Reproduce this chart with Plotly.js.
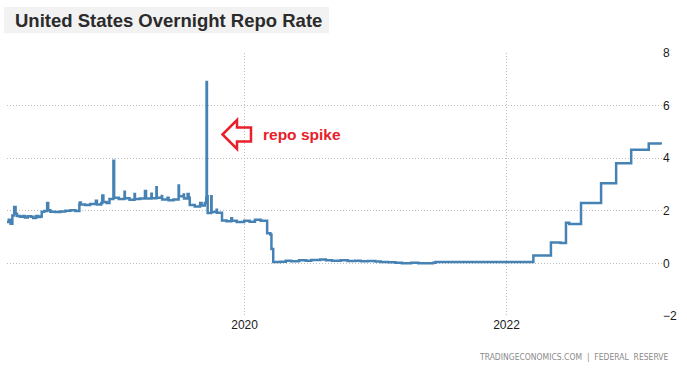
<!DOCTYPE html>
<html>
<head>
<meta charset="utf-8">
<script src="https://cdn.plot.ly/plotly-3.0.1.min.js"></script>
<style>html,body{margin:0;padding:0;background:#fff;}#chart{width:687px;height:370px;}</style>
</head>
<body>
<div id="chart"></div>
<script>
// ---- data ----
const dates = [
"2018-03-09","2018-03-14","2018-03-19","2018-03-24","2018-03-29","2018-04-02","2018-04-06","2018-04-14","2018-04-22","2018-04-28",
"2018-05-06","2018-05-15","2018-05-21","2018-05-29","2018-06-04","2018-06-10","2018-06-14","2018-06-21","2018-06-29","2018-07-02",
"2018-07-08","2018-07-22","2018-08-05","2018-08-19","2018-09-02","2018-09-16","2018-09-27","2018-09-28","2018-10-01","2018-10-13",
"2018-10-27","2018-11-12","2018-11-15","2018-11-27","2018-11-30","2018-12-03","2018-12-12","2018-12-20","2018-12-31","2019-01-02",
"2019-01-15","2019-01-31","2019-02-01","2019-02-14","2019-02-28","2019-03-01","2019-03-15","2019-03-29","2019-04-01","2019-04-16",
"2019-04-17","2019-04-30","2019-05-01","2019-05-15","2019-05-16","2019-05-31","2019-06-03","2019-06-17","2019-07-01","2019-07-02",
"2019-07-15","2019-07-16","2019-07-26","2019-07-29","2019-08-01","2019-08-15","2019-08-30","2019-09-03","2019-09-12","2019-09-16",
"2019-09-17","2019-09-18","2019-09-20","2019-09-30","2019-10-01","2019-10-15","2019-10-16","2019-10-30","2019-11-12","2019-11-25",
"2019-11-27","2019-12-10","2019-12-31","2020-01-15","2020-01-30","2020-02-15","2020-03-04","2020-03-13","2020-03-16","2020-03-21",
"2020-04-10","2020-04-25","2020-05-10","2020-06-01","2020-06-20","2020-07-05","2020-07-30","2020-08-15","2020-09-01","2020-09-25",
"2020-10-15","2020-11-05","2020-11-20","2020-12-10","2020-12-31","2021-01-15","2021-02-05","2021-02-25","2021-03-15","2021-04-10",
"2021-04-30","2021-05-20","2021-06-10","2021-06-17","2021-07-15","2021-08-20","2021-10-01","2021-12-01","2022-01-15","2022-03-17",
"2022-05-05","2022-06-01","2022-06-16","2022-06-25","2022-07-28","2022-09-22","2022-11-03","2022-12-15","2023-02-02","2023-03-10"
];
const rates = [
1.57,1.66,1.51,1.82,2.14,1.89,1.80,1.77,1.80,1.75,
1.79,1.77,1.73,1.80,1.76,1.78,1.96,1.99,2.30,2.02,
1.96,1.95,1.97,2.00,2.02,1.99,2.25,2.32,2.24,2.22,
2.26,2.38,2.24,2.30,2.58,2.33,2.30,2.45,3.90,2.50,
2.45,2.72,2.48,2.42,2.64,2.45,2.47,2.75,2.47,2.65,
2.48,2.90,2.50,2.56,2.43,2.50,2.40,2.43,2.96,2.55,
2.62,2.47,2.64,2.50,2.22,2.16,2.30,2.20,2.30,2.50,
6.90,2.55,1.92,2.55,1.95,2.04,1.93,1.63,1.60,1.72,
1.62,1.57,1.62,1.58,1.66,1.62,1.15,1.10,0.55,0.05,
0.06,0.10,0.08,0.12,0.10,0.13,0.15,0.12,0.10,0.12,
0.09,0.10,0.08,0.09,0.07,0.05,0.04,0.02,0.01,0.02,
0.01,0.01,0.02,0.05,0.05,0.05,0.05,0.05,0.05,0.30,
0.79,0.78,1.55,1.50,2.30,3.05,3.81,4.32,4.56,4.55
];
const yTicks = [-2, 0, 2, 4, 6, 8];
const xTickYears = ["2020-01-01", "2022-01-01"];
const xTickLabels = ["2020", "2022"];
const titleText = "United States Overnight Repo Rate";
const noteText = "repo spike";
const sourceText = "TRADINGECONOMICS.COM  |  FEDERAL  RESERVE";

// ---- layout helpers (page pixels -> paper coords) ----
const W = 687, H = 370;
const M = {l: 7, r: 25, t: 53, b: 54};
const PW = W - M.l - M.r, PH = H - M.t - M.b;
const px = x => (x - M.l) / PW;
const py = y => (H - M.b - y) / PH;

const arrowPts = [[222.5,134.5],[237,120],[237,127.5],[251,127.5],[251,141.5],[237,141.5],[237,149]];
const arrowPath = 'M ' + arrowPts.map(p => px(p[0]).toFixed(5) + ',' + py(p[1]).toFixed(5)).join(' L ') + ' Z';

const trace = {
  x: dates, y: rates, type: 'scatter', mode: 'lines',
  line: {color: '#4682B4', width: 2.5, shape: 'hv'},
  hoverinfo: 'skip'
};

const tickFont = {family: '"Liberation Sans", Arial, sans-serif', size: 12, color: '#1a1a1a'};
const gridStyle = {showgrid: true, gridcolor: '#bdbdbd', griddash: '1px,2px', gridwidth: 1};

const layout = {
  width: W, height: H,
  margin: M,
  paper_bgcolor: '#ffffff', plot_bgcolor: '#ffffff',
  showlegend: false,
  xaxis: Object.assign({
    type: 'date',
    range: ['2018-03-09', '2023-03-11'],
    tickvals: xTickYears, ticktext: xTickLabels,
    zeroline: false, showline: false, ticks: '',
    tickfont: tickFont, fixedrange: true
  }, gridStyle),
  yaxis: Object.assign({
    side: 'right',
    range: [-2, 8],
    tickvals: yTicks,
    zeroline: false, showline: false, ticks: '',
    tickfont: tickFont, fixedrange: true
  }, gridStyle),
  shapes: [
    {type: 'rect', xref: 'paper', yref: 'paper', x0: px(4), x1: px(329), y0: py(33.3), y1: py(7),
     fillcolor: '#f2f2f2', line: {width: 0}, layer: 'below'},
    {type: 'path', xref: 'paper', yref: 'paper', path: arrowPath,
     line: {color: '#e8202a', width: 2.5}, fillcolor: 'rgba(0,0,0,0)'}
  ],
  annotations: [
    {text: '<b>' + titleText + '</b>', xref: 'paper', yref: 'paper', x: px(13), y: py(20.5),
     xanchor: 'left', yanchor: 'middle', showarrow: false,
     font: {family: '"Liberation Sans", Arial, sans-serif', size: 18.5, color: '#2b2b2b'}},
    {text: '<b>' + noteText + '</b>', xref: 'paper', yref: 'paper', x: px(261), y: py(134),
     xanchor: 'left', yanchor: 'middle', showarrow: false,
     font: {family: '"Liberation Sans", Arial, sans-serif', size: 15.5, color: '#e8202a'}},
    {text: sourceText, xref: 'paper', yref: 'paper', x: px(670), y: py(357),
     xanchor: 'right', yanchor: 'middle', showarrow: false,
     font: {family: '"DejaVu Sans Condensed", "Liberation Sans", Arial, sans-serif', size: 8.5, color: '#8a8a8a'}}
  ]
};

Plotly.newPlot('chart', [trace], layout, {displayModeBar: false, staticPlot: true});
</script>
</body>
</html>
